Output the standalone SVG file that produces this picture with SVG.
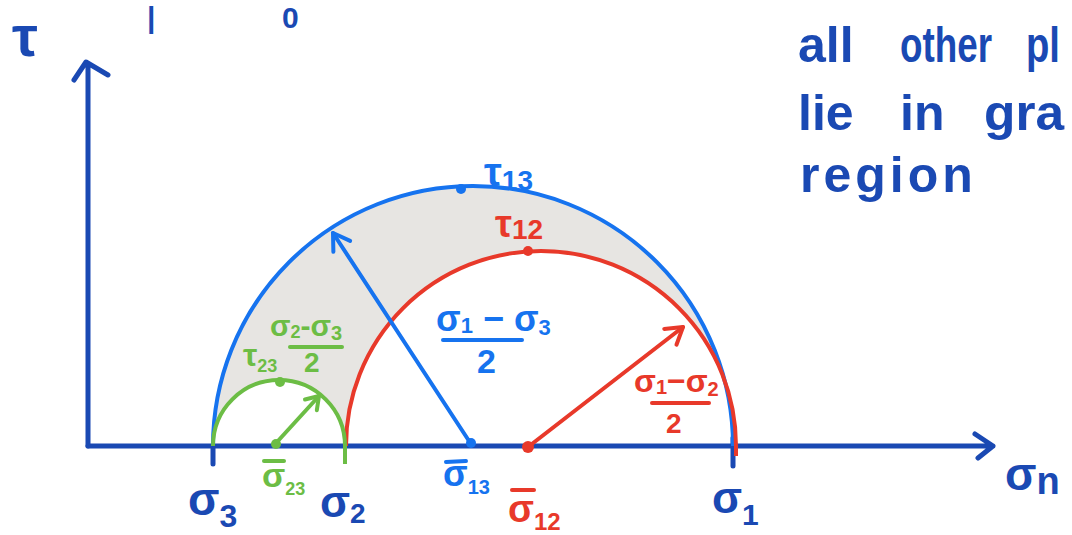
<svg xmlns="http://www.w3.org/2000/svg" width="1072" height="535" viewBox="0 0 1072 535">
<style>
text{font-family:"Liberation Sans","DejaVu Sans",sans-serif;font-weight:bold}
.dk{fill:#1a49b3}.bl{fill:#1673ef}.rd{fill:#e8392a}.gr{fill:#6cbd45}
.ax{stroke:#1a49b3;stroke-width:5;fill:none;stroke-linecap:round;stroke-linejoin:round}
.cb{stroke:#1673ef;stroke-width:4;fill:none}
.cr{stroke:#e8392a;stroke-width:4;fill:none}
.cg{stroke:#6cbd45;stroke-width:4;fill:none}
.ln{stroke-width:4;stroke-linecap:round;fill:none}
</style>
<defs>
<marker id="hb" markerUnits="userSpaceOnUse" markerWidth="40" markerHeight="40" refX="0" refY="0" viewBox="-20 -20 40 40" orient="auto" overflow="visible"><path d="M-16,-10 L0,0 L-16,10" stroke="#1673ef" stroke-width="4" fill="none" stroke-linecap="round" stroke-linejoin="round"/></marker>
<marker id="hr" markerUnits="userSpaceOnUse" markerWidth="40" markerHeight="40" refX="0" refY="0" viewBox="-20 -20 40 40" orient="auto" overflow="visible"><path d="M-16,-10 L0,0 L-16,10" stroke="#e8392a" stroke-width="4" fill="none" stroke-linecap="round" stroke-linejoin="round"/></marker>
<marker id="hg" markerUnits="userSpaceOnUse" markerWidth="40" markerHeight="40" refX="0" refY="0" viewBox="-20 -20 40 40" orient="auto" overflow="visible"><path d="M-12,-8 L0,0 L-12,8" stroke="#6cbd45" stroke-width="4" fill="none" stroke-linecap="round" stroke-linejoin="round"/></marker>
</defs>

<g id="region">
<path d="M213,446 A260,260 0 0 1 733,446 L736,446 A195,195 0 0 0 346,446 L345,446 A66,66 0 0 0 213,446 Z" fill="#e7e5e2"/>
</g>

<g id="axes">
<path class="ax" d="M88,446 L993,446 M975,434 L993,446 L978,458"/>
<path class="ax" d="M88,446 L88,64 M74,80 L86,62 L108,75"/>
<path class="ax" d="M213,446 L213,464 M733,438 L733,466"/>
</g>

<g id="circle13"><path class="cb" d="M213,446 A260,260 0 0 1 733,446"/></g>
<g id="circle12"><path class="cr" d="M346,446 A195,195 0 0 1 736,446 L736,456"/></g>
<g id="circle23"><path class="cg" d="M213,446 A66,66 0 0 1 345,446 L345,464"/></g>

<g id="connectors">
<path class="ln" stroke="#1673ef" d="M471,444 L333,233" marker-end="url(#hb)"/>
<path class="ln" stroke="#e8392a" d="M528,447 L683,327" marker-end="url(#hr)"/>
<path class="ln" stroke="#6cbd45" d="M277,442 L319,396" marker-end="url(#hg)"/>
</g>

<g id="points">
<circle cx="461" cy="189" r="5" class="bl"/>
<circle cx="528" cy="251" r="5" class="rd"/>
<circle cx="471" cy="443" r="5" class="bl"/>
<circle cx="528" cy="447" r="6" class="rd"/>
<circle cx="280" cy="382" r="5" class="gr"/>
<circle cx="276" cy="444" r="5" class="gr"/>
</g>

<g id="labels">
<text x="12" y="56" font-size="58" class="dk">τ</text>
<text x="147" y="28" font-size="30" class="dk">|</text>
<text x="282" y="28" font-size="30" class="dk">0</text>

<text y="62" font-size="50" class="dk"><tspan x="798">all</tspan><tspan x="900" textLength="92" lengthAdjust="spacingAndGlyphs">other</tspan><tspan x="1026" textLength="34" lengthAdjust="spacingAndGlyphs">pl</tspan></text>
<text y="130" font-size="50" class="dk"><tspan x="798">lie</tspan><tspan x="900">in</tspan><tspan x="984" textLength="80" lengthAdjust="spacingAndGlyphs">gra</tspan></text>
<text x="800" y="192" font-size="50" class="dk" letter-spacing="4">region</text>

<text x="484" y="186" font-size="40" class="bl">τ<tspan font-size="28" dy="4">13</tspan></text>
<text x="495" y="237" font-size="38" class="rd">τ<tspan font-size="28" dy="2">12</tspan></text>

<text x="436" y="331" font-size="36" class="bl">σ<tspan font-size="22" dy="2">1</tspan><tspan dy="-2"> − σ</tspan><tspan font-size="22" dy="4">3</tspan></text>
<line x1="443" y1="340" x2="522" y2="340" stroke="#1673ef" stroke-width="4" stroke-linecap="round"/>
<text x="477" y="373" font-size="34" class="bl">2</text>

<text x="634" y="392" font-size="32" class="rd">σ<tspan font-size="20" dy="2">1</tspan><tspan dy="-2">−σ</tspan><tspan font-size="20" dy="4">2</tspan></text>
<line x1="652" y1="403" x2="709" y2="403" stroke="#e8392a" stroke-width="4" stroke-linecap="round"/>
<text x="666" y="433" font-size="28" class="rd">2</text>

<text x="270" y="336" font-size="30" class="gr">σ<tspan font-size="18" dy="2">2</tspan><tspan dy="-2">-σ</tspan><tspan font-size="20" dy="4">3</tspan></text>
<line x1="290" y1="347" x2="342" y2="347" stroke="#6cbd45" stroke-width="4" stroke-linecap="round"/>
<text x="304" y="372" font-size="28" class="gr">2</text>
<text x="243" y="366" font-size="32" class="gr">τ<tspan font-size="18" dy="6">23</tspan></text>

<text x="188" y="515" font-size="46" class="dk">σ<tspan font-size="32" dy="12">3</tspan></text>
<text x="320" y="517" font-size="44" class="dk">σ<tspan font-size="28" dy="6">2</tspan></text>
<text x="712" y="513" font-size="44" class="dk">σ<tspan font-size="30" dy="12">1</tspan></text>
<text x="1005" y="490" font-size="46" class="dk">σ<tspan font-size="38" dy="4">n</tspan></text>

<text x="443" y="486" font-size="36" class="bl">σ<tspan font-size="20" dy="8">13</tspan></text>
<line x1="446" y1="462" x2="466" y2="461" stroke="#1673ef" stroke-width="4" stroke-linecap="round"/>
<text x="508" y="522" font-size="38" class="rd">σ<tspan font-size="24" dy="8">12</tspan></text>
<line x1="512" y1="490" x2="534" y2="490" stroke="#e8392a" stroke-width="4" stroke-linecap="round"/>
<text x="262" y="487" font-size="34" class="gr">σ<tspan font-size="18" dy="8">23</tspan></text>
<line x1="264" y1="461" x2="284" y2="461" stroke="#6cbd45" stroke-width="4" stroke-linecap="round"/>
</g>
</svg>
